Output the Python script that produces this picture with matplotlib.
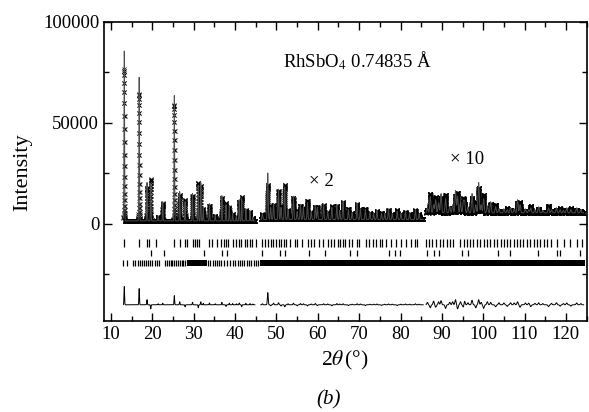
import numpy as np
import matplotlib
matplotlib.use("Agg")
import matplotlib.pyplot as plt
from matplotlib.ticker import MultipleLocator

plt.rcParams["font.family"] = "Liberation Serif"
plt.rcParams["mathtext.fontset"] = "stix"

# 2theta ranges of the three parts of the pattern (x1, x2, x10)
seg_start = [13.0, 46.2, 86.2]
seg_end = [44.8, 85.5, 124.3]
seg_bg = [1500, 2200, 5500]
seg_width = [0.07, 0.10, 0.14]

# peaks as shown: position, calculated height, difference (calc - obs)
pos_1 = [13.2, 16.8, 18.7, 19.6, 21.4, 22.5, 25.3, 26.6, 27.9, 29.7, 31.1, 31.7,
         32.3, 33.8, 35.2, 36.8, 37.8, 38.6, 39.4, 40.3, 41.0, 41.6, 42.6, 43.6, 44.3]
h_1 = [84000, 71000, 19000, 18500, 2500, 9500, 62000, 14500, 9500, 13500, 17500, 19000,
       6500, 8500, 3000, 12500, 8000, 7500, 4000, 2500, 10500, 11000, 6000, 5000, 2000]
d_1 = [9000, 8000, 2500, -2000, 500, 800, 4500, 1500, -1000, 1200, -1500, 1500,
       700, 900, 500, 1200, -800, 800, 600, 500, 900, -900, 700, 600, 400]

pos_2 = [46.6, 47.9, 48.6, 49.3, 50.5, 51.1, 52.0, 52.8, 54.1, 55.0, 55.8, 56.5, 57.5,
         58.4, 59.4, 59.9, 61.4, 62.4, 63.4, 64.6, 65.3, 66.1, 67.4, 68.3, 69.5, 70.3,
         71.5, 72.6, 73.5, 74.3, 75.4, 76.2, 77.1, 78.0, 79.2, 80.1, 81.2, 82.2, 83.6, 84.5]
h_2 = [3000, 23000, 6000, 8000, 15000, 6000, 16000, 5000, 11500, 4000, 7500, 6000, 8500,
       4000, 7000, 6000, 7500, 4000, 6000, 7500, 4500, 9000, 5000, 3500, 8000, 5500,
       5000, 3500, 3000, 4500, 3000, 3000, 5000, 3000, 4200, 3000, 4000, 3000, 5000, 3000]
d_2 = [500, 6000, -500, 800, 1000, -600, -1000, 500, 800, -500, 600, 500, -600,
       400, 600, -400, 500, 400, -500, 600, 400, 500, -400, 300, 500, 400,
       -400, 300, 300, 400, -300, 300, 400, 300, -400, 300, 400, 300, 500, 300]

pos_3 = [86.5, 87.2, 88.0, 88.5, 89.2, 89.8, 90.9, 91.9, 92.6, 93.3, 93.8, 94.5, 95.2,
         95.5, 96.3, 97.3, 98.2, 98.9, 99.5, 100.1, 101.0, 101.8, 103.0, 103.8, 105.0,
         105.8, 106.6, 107.5, 108.3, 108.9, 110.2, 111.0, 111.5, 112.5, 113.4, 114.4,
         115.8, 116.5, 117.7, 118.6, 119.4, 120.2, 121.2, 122.6, 123.6]
h_3 = [2500, 8000, 4000, 6500, 5000, 9500, 7000, 3000, 4000, 11000, 8000, 5000, 5500,
       5500, 3000, 9500, 4000, 15000, 4000, 7000, 3500, 5500, 3000, 2000, 2000,
       1500, 2500, 2000, 6500, 4000, 2000, 1500, 2500, 1500, 3000, 1200,
       2500, 1500, 2500, 1500, 1200, 2500, 1500, 2500, 1500]
d_3 = [1200, -1500, 1800, -1200, 1500, 2000, -1800, 1200, 1500, 2500, -2000, 1500, -1200,
       1800, 1000, 2200, -1500, 2500, 1200, -1800, 1500, 1200, -1000, 1000, 900,
       -800, 1000, 900, 1500, -1200, 900, 800, -900, 700, 1000, 600,
       -900, 700, 1000, -700, 600, 900, -700, 900, 600]

# reflection markers (three phases)
refl_1 = [13.2, 16.8, 18.7, 19.2, 20.9, 25.2, 26.6, 27.9, 28.3, 29.8, 30.4, 30.9, 31.2,
          33.6, 34.5, 35.7, 36.5, 37.4, 37.9, 38.4, 39.6, 40.2, 41.0, 41.5, 42.3, 42.8,
          43.6, 44.1, 45.0, 46.5, 47.3, 48.0, 48.6, 49.1, 49.8, 50.6, 51.1, 51.8, 52.4,
          53.3, 54.5, 55.0, 56.2, 57.6, 58.3, 59.0, 60.4, 61.2, 62.5, 63.1, 64.0, 64.8,
          65.3, 66.0, 66.5, 67.5, 68.3, 69.5, 70.0, 71.6, 72.5, 73.3, 74.1, 75.0, 75.6,
          76.4, 77.8, 79.0, 80.1, 81.3, 82.6, 83.4, 84.1, 86.2, 87.0, 87.7, 88.5, 89.6,
          90.3, 91.2, 92.0, 92.8, 94.5, 95.3, 96.0, 96.8, 97.5, 98.4, 99.2, 100.1, 101.0,
          101.7, 102.6, 103.4, 104.3, 105.0, 105.8, 106.6, 107.4, 108.2, 109.0, 109.7,
          110.5, 111.4, 112.2, 113.0, 113.8, 114.6, 115.5, 116.4, 117.8, 119.5, 121.0,
          122.8, 124.0]
refl_2 = [19.7, 22.9, 32.4, 36.8, 38.0, 46.5, 50.9, 52.1, 57.8, 61.8, 67.8, 69.5, 77.1,
          78.7, 79.9, 86.4, 88.0, 89.2, 94.8, 96.4, 103.6, 106.5, 113.3, 117.8, 118.6, 123.5]
refl_3 = [12.9, 13.8, 15.3, 15.8, 16.4, 16.9, 17.5, 18.0, 18.4, 18.9, 19.5, 20.0, 20.6,
          21.1, 21.5, 23.0, 23.5, 23.9, 24.4, 24.8, 25.3, 25.7, 26.2, 26.6, 27.1, 27.5,
          28.0, 33.5, 34.0, 34.6, 35.1, 35.6, 36.2, 36.6, 37.3, 38.1, 38.8, 39.5, 40.0,
          40.6, 41.1, 41.7, 42.2, 42.8, 43.4, 43.9, 44.5, 45.1, 45.6]
refl_3_dense = [(28.3, 33.2), (46.0, 124.5)]

fig = plt.figure(figsize=(5.89, 4.12), dpi=100)
ax = fig.add_axes([0.1766, 0.221, 0.82, 0.726])

segments = [(pos_1, h_1, d_1), (pos_2, h_2, d_2), (pos_3, h_3, d_3)]
for i, (pos, h, d) in enumerate(segments):
    x = np.arange(seg_start[i], seg_end[i], 0.01)
    calc = np.full_like(x, seg_bg[i], dtype=float)
    diff = np.zeros_like(x)
    for p, hh, dd in zip(pos, h, d):
        g = np.exp(-0.5 * ((x - p) / seg_width[i]) ** 2)
        calc += hh * g
        diff += dd * g
    obs = calc - diff
    ax.plot(x, obs, ls="none", marker="x", ms=2.4, mew=0.55, color="black")
    ax.plot(x, calc, color="0.3", lw=0.7)
    ax.plot(x, -40000 + diff, color="black", lw=0.7)

ax.vlines(refl_1, -11500, -7500, color="black", lw=0.9)
ax.vlines(refl_2, -15800, -12800, color="black", lw=0.9)
ax.vlines(refl_3, -21000, -18000, color="black", lw=0.9)
for a, b in refl_3_dense:
    ax.fill_between([a, b], -21000, -18000, color="black", lw=0)

ax.text(51.5, 81000, r"RhSbO$_4$ 0.74835 Å", va="center", fontsize=13.5)
ax.text(60.8, 21000, "× 2", ha="center", va="center", fontsize=13.5)
ax.text(96.2, 32000, "× 10", ha="center", va="center", fontsize=13.5)

ax.set_xlim(8.3, 125.1)
ax.set_ylim(-48000, 100000)
ax.set_xticks(range(10, 121, 10))
ax.xaxis.set_minor_locator(MultipleLocator(5))
ax.set_yticks([0, 50000, 100000])
ax.yaxis.set_minor_locator(MultipleLocator(25000))
ax.tick_params(which="both", direction="in", top=True, right=True, labelsize=13.5, width=1)
ax.tick_params(which="major", length=6)
ax.tick_params(which="minor", length=3.5)
for s in ax.spines.values():
    s.set_linewidth(1.2)

fig.text(0.039, 0.583, "Intensity", rotation=90, ha="center", va="center", fontsize=16)
fig.text(0.586, 0.124, r"2$\theta\,$(°)", ha="center", va="center", fontsize=15.5)
fig.text(0.557, 0.029, "(b)", style="italic", ha="center", va="center", fontsize=15)

fig.savefig("out.png", dpi=100)
